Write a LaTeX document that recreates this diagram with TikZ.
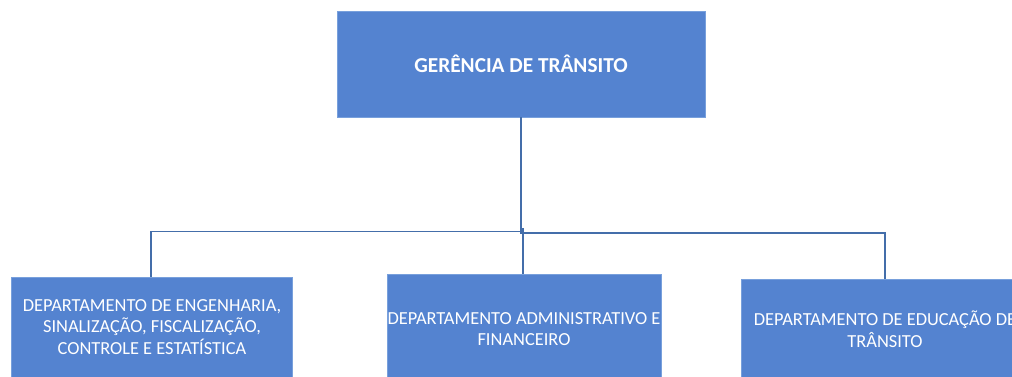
\documentclass[tikz,border=0pt]{standalone}
\usepackage{fontspec}
\setmainfont{Carlito}
\definecolor{boxfill}{RGB}{84,131,208}
\definecolor{boxedge}{RGB}{120,160,220}
\definecolor{linecol}{RGB}{68,110,170}
\tikzset{
  orgbox/.style={rectangle, fill=boxfill, draw=boxedge, line width=0.6pt, inner sep=0pt},
  boxtext/.style={text=white, align=center, inner sep=0pt, font=\fontsize{18.4}{21.5}\selectfont},
  toptext/.style={text=white, align=center, inner sep=0pt, font=\fontsize{21.3}{24}\selectfont\bfseries},
  conn/.style={draw=linecol, line width=1.3pt}
}
\begin{document}
\begin{tikzpicture}[x=1pt,y=-1pt]
\useasboundingbox (0,0) rectangle (1012,377);
\clip (0,0) rectangle (1012,377);
\node[orgbox, minimum width=368, minimum height=106] (top) at (521,64) {};
\node[toptext] (toptxt) at (top.center) {GERÊNCIA DE TRÂNSITO};
\node[orgbox, minimum width=281, minimum height=102, anchor=north west] (d1) at (11,277) {};
\node[boxtext] (d1txt) at (152,327) {DEPARTAMENTO DE ENGENHARIA,\\SINALIZAÇÃO, FISCALIZAÇÃO,\\CONTROLE E ESTATÍSTICA};
\node[orgbox, minimum width=274, minimum height=110, anchor=north west] (d2) at (387,274) {};
\node[boxtext] (d2txt) at (524,329) {DEPARTAMENTO ADMINISTRATIVO E\\FINANCEIRO};
\node[orgbox, minimum width=290, minimum height=100, anchor=north west] (d3) at (741,279) {};
\node[boxtext] (d3txt) at (885,329) {DEPARTAMENTO DE EDUCAÇÃO DE\\TRÂNSITO};
\coordinate (j) at (521,232);
\draw[conn] (top.south -| j) -- (j);
\draw[conn] (j) -- ++(0,-0.5) -| (d1.north -| 151,0);
\draw[conn] (j) -- ++(0,1) -| (d3.north -| 885,0);
\draw[conn] (523,228) -- (d2.north -| 523,0);
\end{tikzpicture}
\end{document}
